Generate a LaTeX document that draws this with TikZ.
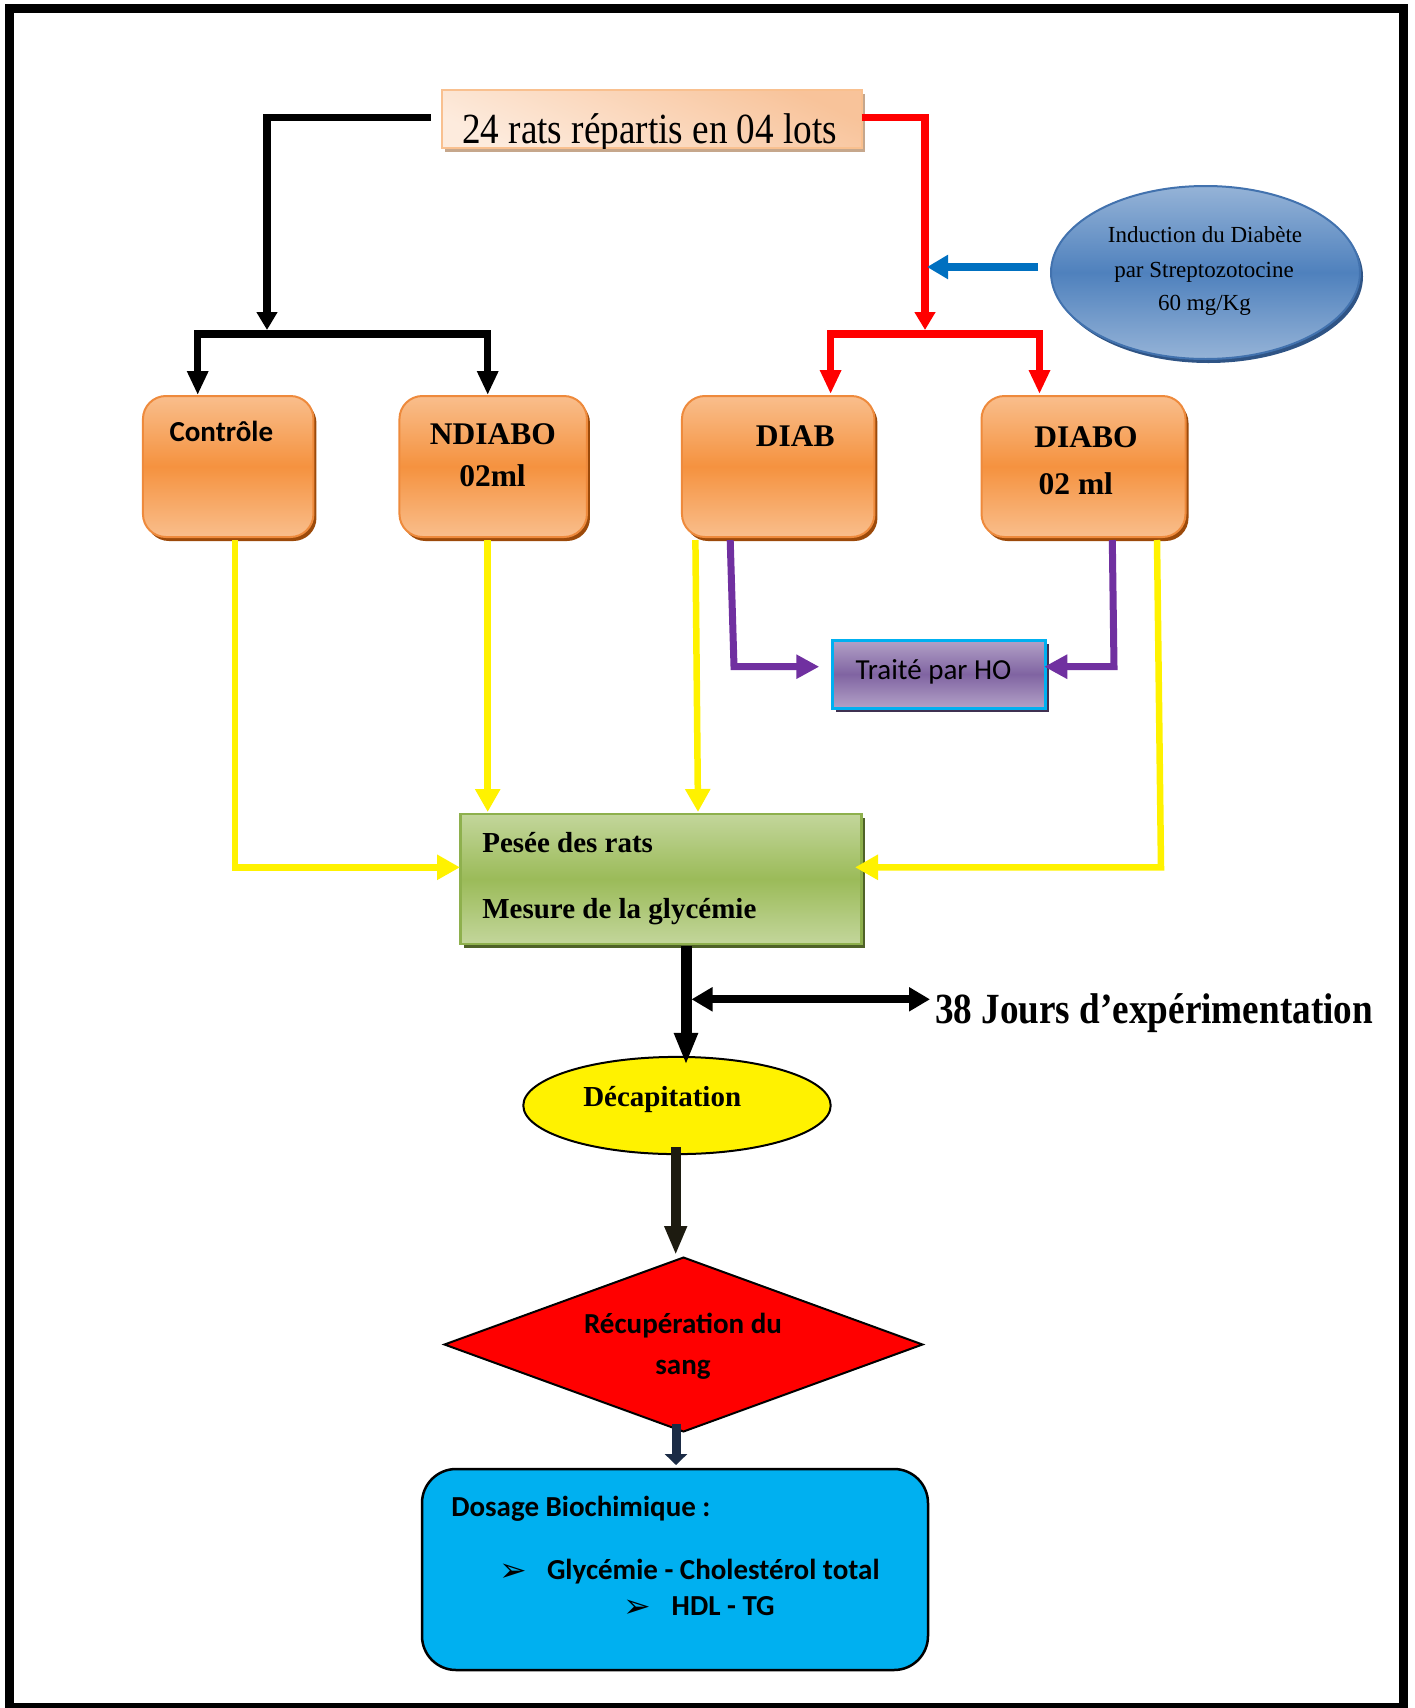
\documentclass[tikz,border=0pt]{standalone}
\usepackage{fontspec}
\setmainfont{Liberation Serif}
\newfontfamily\carl{Carlito}
\newfontfamily\dvs{DejaVu Sans}
\usepackage{graphicx}
\usetikzlibrary{arrows.meta,shapes.geometric,shadows,calc}
\newcommand\setfs[1]{\fontsize{#1}{#1}\selectfont}
\definecolor{orLight}{HTML}{F9BE8C}
\definecolor{orMid}{HTML}{F5923F}
\definecolor{orBorder}{HTML}{EE8A3C}
\definecolor{orShadow}{HTML}{9C4A0A}
\definecolor{pcLight}{HTML}{FDEBDD}
\definecolor{pcDark}{HTML}{F8C39A}
\definecolor{pcBorder}{HTML}{F9C08F}
\definecolor{pcShadow}{HTML}{C6A78C}
\definecolor{bLight}{HTML}{95B3D7}
\definecolor{bMid}{HTML}{4F81BD}
\definecolor{bBorder}{HTML}{4272AE}
\definecolor{bShadow}{HTML}{2F5485}
\definecolor{arrBlue}{HTML}{0070C0}
\definecolor{purp}{HTML}{7030A0}
\definecolor{pLight}{HTML}{B3A2C7}
\definecolor{pMid}{HTML}{8064A2}
\definecolor{cyanB}{HTML}{00B0F0}
\definecolor{pShadow}{HTML}{3F3151}
\definecolor{gLight}{HTML}{C3D69B}
\definecolor{gMid}{HTML}{9BBB59}
\definecolor{gBorder}{HTML}{8EB04D}
\definecolor{gShadow}{HTML}{4F6228}
\definecolor{darkA}{HTML}{1D1B10}
\definecolor{navyA}{HTML}{1B2B45}
\tikzset{
  base/.style={inner sep=0pt, outer sep=0pt},
  shadowed/.style={general shadow={fill=#1, shadow xshift=3pt, shadow yshift=-4pt}},
  lotbox/.style={base, rounded corners=23pt, draw=orBorder, line width=2pt,
    top color=orLight, bottom color=orLight, middle color=orMid, shadowed=orShadow},
  txt/.style={base, anchor=base},
  ltxt/.style={base, anchor=base west},
  blkarrow/.style={draw=black, line width=7.5pt, line join=miter, -{Triangle[length=18pt,width=20pt]}},
  blkfork/.style={draw=black, line width=7.5pt, line join=miter, {Triangle[length=24pt,width=20pt]}-{Triangle[length=24pt,width=20pt]}},
  redarrow/.style={draw=red, line width=7.5pt, line join=miter, -{Triangle[length=18pt,width=20pt]}},
  redfork/.style={draw=red, line width=7.5pt, line join=miter, {Triangle[length=24pt,width=20pt]}-{Triangle[length=24pt,width=20pt]}},
  bluearrow/.style={draw=arrBlue, line width=8pt, -{Triangle[length=21pt,width=23pt]}},
  yelarrow/.style={draw=yellow, line width=6.5pt, line join=miter, -{Triangle[length=23pt,width=24pt]}},
  purarrow/.style={draw=purp, line width=7pt, line join=miter, -{Triangle[length=23pt,width=23pt]}},
  bigarrow/.style={draw=black, line width=11pt, -{Triangle[length=32pt,width=22pt]}},
  dblarrow/.style={draw=black, line width=8pt, {Triangle[length=21pt,width=23pt]}-{Triangle[length=21pt,width=23pt]}},
  darkarrow/.style={draw=darkA, line width=10pt, -{Triangle[length=29pt,width=21pt]}},
  navyarrow/.style={draw=navyA, line width=9pt, -{Triangle[length=11pt,width=22pt]}},
}
\begin{document}
\begin{tikzpicture}[x=1pt, y=-1pt]
\useasboundingbox (0,0) rectangle (1415,1708);
% frame
\draw[line width=9pt] (9,8) rectangle (1403,1707);

% top box
\node[base, minimum width=420pt, minimum height=58pt, draw=pcBorder, line width=2pt,
  top color=pcDark, bottom color=pcLight, shading angle=-25, shadowed=pcShadow] (top) at (651.7,119) {};
\begin{scope}
  \clip (top.south west) rectangle (top.north east);
  \node[txt] (toptxt) at (649.7,143.3) {\scalebox{0.865}[1]{\setfs{43}24 rats répartis en 04 lots}};
\end{scope}

% induction ellipse
\node[base, ellipse, minimum width=309pt, minimum height=173pt, draw=bBorder, line width=2pt,
  top color=bLight, bottom color=bLight, middle color=bMid, shadowed=bShadow] (ind) at (1205.5,272.5) {};
\node[txt] (ind1) at (1205,242.7) {\setfs{23}Induction du Diabète};
\node[txt] (ind2) at (1204,277.5) {\setfs{23}par Streptozotocine};
\node[txt] (ind3) at (1204.5,310.5) {\setfs{23}60 mg/Kg};

% lots
\node[lotbox, minimum width=170.5pt, minimum height=141pt] (ctrl) at (228.2,466.5) {};
\node[lotbox, minimum width=187.5pt, minimum height=141pt] (ndiabo) at (493.2,466.5) {};
\node[lotbox, minimum width=192.5pt, minimum height=141pt] (diab) at (778.2,466.5) {};
\node[lotbox, minimum width=204pt, minimum height=141pt] (diabo) at (1083.5,466.5) {};
\node[txt] (tCtrl) at (221.3,441.7) {\carl\bfseries\setfs{29}Contrôle};
\node[txt] (tNd1) at (493,444) {\bfseries\setfs{31.5}NDIABO};
\node[txt] (tNd2) at (492.5,486) {\bfseries\setfs{31.5}02ml};
\node[txt] (tDiab) at (795.3,446) {\bfseries\setfs{31.5}DIAB};
\node[txt] (tDo1) at (1086,447.6) {\bfseries\setfs{31.5}DIABO};
\node[txt] (tDo2) at (1075.8,494.3) {\bfseries\setfs{31.5}02 ml};

% traite
\node[base, minimum width=213.3pt, minimum height=68.3pt, draw=cyanB, line width=3pt,
  top color=pLight, bottom color=pLight, middle color=pMid, shadowed=pShadow] (traite) at (939.3,674.2) {};
\node[txt] (tTr) at (933.5,679.3) {\carl\setfs{29}Traité par HO};

% green box
\node[base, minimum width=401pt, minimum height=130pt, draw=gBorder, line width=2.5pt,
  top color=gLight, bottom color=gLight, middle color=gMid, shadowed=gShadow] (green) at (661.2,879) {};
\node[ltxt] (tPes) at (482.3,852.3) {\bfseries\setfs{29}Pesée des rats};
\node[ltxt] (tMes) at (482.3,918.3) {\bfseries\setfs{29}Mesure de la glycémie};

% decapitation
\node[base, ellipse, minimum width=307.4pt, minimum height=97.2pt, draw=black, line width=2pt, fill=yellow] (decap) at (677,1105.5) {};
\node[txt] (tDec) at (662.2,1106) {\bfseries\setfs{29}Décapitation};

% diamond
\node[base, diamond, minimum width=478pt, minimum height=174pt, draw=black, line width=2pt, fill=red] (diam) at (683.5,1344.5) {};
\node[txt] (tRec1) at (683,1333) {\carl\bfseries\setfs{29}Récupération du};
\node[txt] (tRec2) at (683,1374) {\carl\bfseries\setfs{29}sang};

% dosage
\node[base, rounded corners=34pt, minimum width=506pt, minimum height=201pt, draw=black, line width=2.5pt, fill=cyanB] (dosage) at (675,1569.5) {};
\node[ltxt] (tDos) at (451.3,1516) {\carl\bfseries\setfs{29}Dosage Biochimique :};
\node[ltxt] (b1) at (499,1581) {\dvs\setfs{33}➢};
\node[ltxt] (tGly) at (547,1579) {\carl\bfseries\setfs{29}Glycémie - Cholestérol total};
\node[ltxt] (b2) at (623,1617) {\dvs\setfs{33}➢};
\node[ltxt] (tHdl) at (671.7,1615) {\carl\bfseries\setfs{29}HDL - TG};

% 38 jours
\node[ltxt] (tJours) at (935,1023.3) {\scalebox{0.865}[1]{\bfseries\setfs{43}38 Jours d’expérimentation}};

% ---- connectors ----
\coordinate (bj) at (267,330);
\coordinate (bR) at (487.7,334);
\draw[blkarrow] ($(top.west)+(-11,-1.5)$) -| (bj);
\draw[blkfork] ($(ctrl.north)+(-30.5,-1)$) |- (bR) -- ($(ndiabo.north)+(-5.5,-1)$);

\coordinate (rj) at (925,330);
\coordinate (rR) at (1039.5,334);
\draw[redarrow] ($(top.east)+(0,-1.5)$) -| (rj);
\draw[redfork] ($(diab.north)+(52.4,-2)$) |- (rR) -- ($(diabo.north)+(-44,-2)$);

\coordinate (bt) at (927,267);
\draw[bluearrow] ($(ind.west)+(-13,-5.5)$) -- (bt);

\coordinate (y1) at (235,867.3);
\coordinate (y4) at (1161,867.3);
\draw[yelarrow] ($(ctrl.south)+(6.8,3)$) -- (y1) -- ($(green.west)+(-0.7,-11.7)$);
\draw[yelarrow] ($(ndiabo.south)+(-5.5,3)$) -- ($(green.north west)+(27,-2)$);
\draw[yelarrow] ($(diab.south)+(-82.8,3)$) -- ($(green.north west)+(237.3,-2)$);
\draw[yelarrow] ($(diabo.south)+(73.5,3)$) -- (y4) -- ($(green.east)+(-6.7,-11.7)$);

\coordinate (p1) at (734,666.7);
\coordinate (p2) at (1114,666.7);
\draw[purarrow] ($(diab.south)+(-48,3)$) -- (p1) -- ($(traite.west)+(-13.4,-7.5)$);
\draw[purarrow] ($(diabo.south)+(28.8,3)$) -- (p2) -- ($(traite.east)+(-1.7,-7.5)$);

\draw[bigarrow] ($(green.south)+(24.8,2)$) -- ($(decap.north)+(9,8)$);
\coordinate (dA) at (691.5,999.3);
\coordinate (dB) at (930,999.3);
\draw[dblarrow] (dA) -- (dB);

\draw[darkarrow] ($(decap.south)+(-1.3,-7)$) -- ($(diam.north)+(-7.8,-2.5)$);
\draw[navyarrow] ($(diam.south)+(-7.5,-8)$) -- ($(dosage.north)+(1,-4)$);
\end{tikzpicture}
\end{document}
